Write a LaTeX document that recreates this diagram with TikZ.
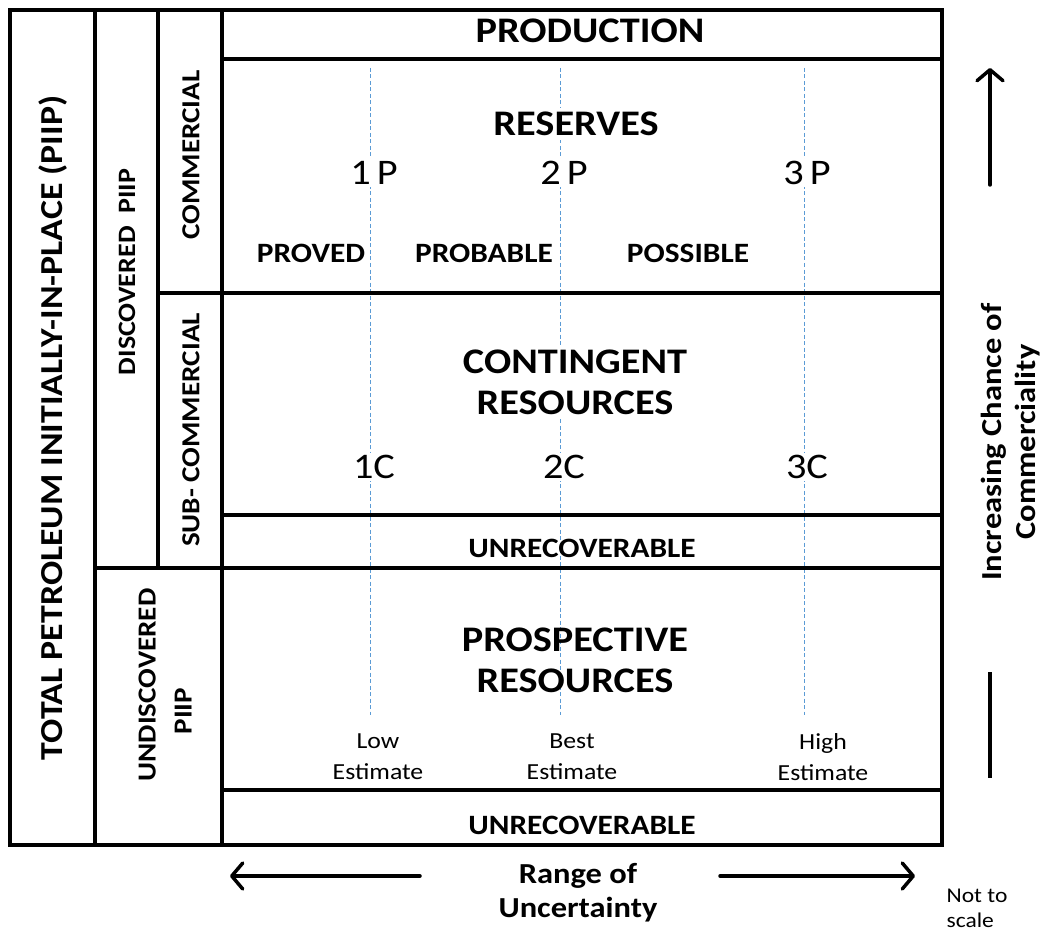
\documentclass[tikz,border=0pt]{standalone}
\usepackage{fontspec}
\setmainfont[FakeStretch=1.12]{Carlito}
\usepackage{tikz}
\usetikzlibrary{arrows.meta}
\definecolor{estblue}{RGB}{91,155,213}
\tikzset{
  frame/.style={line width=3.5pt},
  estline/.style={estblue, line width=1pt, dash pattern=on 4pt off 2.5pt},
  bigtitle/.style={font=\bfseries\fontsize{36}{41}\selectfont, align=center},
  cls/.style={font=\fontsize{36}{40}\selectfont, fill=white, inner sep=2pt},
  sub/.style={font=\bfseries\fontsize{28}{32}\selectfont},
  side/.style={font=\bfseries\fontsize{26}{36}\selectfont, rotate=90, align=center},
  est/.style={font=\fontsize{23}{31}\selectfont, align=center},
  axis/.style={font=\bfseries\fontsize{29}{34}\selectfont, align=center},
  bigarrow/.style={line width=3.5pt, line cap=round, -{Straight Barb[length=11pt,width=26pt,round]}}
}
\begin{document}
\begin{tikzpicture}[x=1pt, y=-1pt]
      \useasboundingbox (0,0) rectangle (1043,933);
      \foreach \x in {370,560,804} \draw[estline] (\x,68) -- (\x,715);
      \draw[line width=4pt] (10,10) rectangle (942,845);
      \draw[frame] (95,10) -- (95,845);
      \draw[frame] (158,10) -- (158,568);
      \draw[frame] (222,10) -- (222,845);
      \draw[frame] (222,59) -- (942,59);
      \draw[frame] (158,293) -- (942,293);
      \draw[frame] (222,515) -- (942,515);
      \draw[frame] (95,568) -- (942,568);
      \draw[frame] (222,790) -- (942,790);
      \node[name=prod, bigtitle] at (590,31){PRODUCTION};
      \node[name=resv, bigtitle, fill=white, inner sep=4pt] at (576,124){RESERVES};
      \node[name=p1, cls] at (374,173){1\,P};
      \node[name=p2, cls] at (564,173){2\,P};
      \node[name=p3, cls] at (807,173){3\,P};
      \node[name=proved, sub] at (311,253){PROVED};
      \node[name=probable, sub] at (484,253){PROBABLE};
      \node[name=possible, sub] at (688,253){POSSIBLE};
      \node[name=cont, bigtitle, fill=white, inner sep=4pt] at (575,382){CONTINGENT\\RESOURCES};
      \node[name=c1, cls] at (374,467){1C};
      \node[name=c2, cls] at (564,467){2C};
      \node[name=c3, cls] at (807,467){3C};
      \node[name=unrecA, sub] at (582,548){UNRECOVERABLE};
      \node[name=prosp, bigtitle] at (575,660){PROSPECTIVE\\RESOURCES};
      \node[name=low, est] at (378,757){Low\\Estimate};
      \node[name=best, est] at (572,757){Best\\Estimate};
      \node[name=high, est] at (823,757){High\\Estimate};
      \node[name=unrecB, sub] at (582,825){UNRECOVERABLE};
      \node[name=piip, font=\bfseries\fontsize{32}{36}\selectfont, rotate=90] at (53,428){TOTAL PETROLEUM INITIALLY-IN-PLACE (PIIP)};
      \node[name=disc, side, font=\bfseries\fontsize{25}{30}\selectfont] at (127,272){DISCOVERED\ \ PIIP};
      \node[name=comm, side] at (191,155){COMMERCIAL};
      \node[name=subcomm, side] at (191,430){SUB-\ COMMERCIAL};
      \node[name=undisc, side, align=left] at (165,685){UNDISCOVERED\\\hspace*{47pt}PIIP};
      \node[name=chance, axis, rotate=90] at (1011,442){Increasing Chance of\\Commerciality};
      \coordinate (chA) at (990,185);
      \coordinate (chB) at (990,68);
      \coordinate (chC) at (990,672);
      \coordinate (chD) at (990,778);
      \draw[bigarrow] (chA) -- (chB);
      \draw[line width=3.5pt] (chC) -- (chD);
      \node[name=range, axis] at (578,893){Range of\\Uncertainty};
      \coordinate (rgA) at (420,876);
      \coordinate (rgB) at (230,876);
      \coordinate (rgC) at (720,876);
      \coordinate (rgD) at (915,876);
      \draw[bigarrow] (rgA) -- (rgB);
      \draw[bigarrow] (rgC) -- (rgD);
      \node[name=scale, font=\fontsize{21}{25}\selectfont, align=left] at (977,908){Not to\\scale};
    \end{tikzpicture}
\end{document}
